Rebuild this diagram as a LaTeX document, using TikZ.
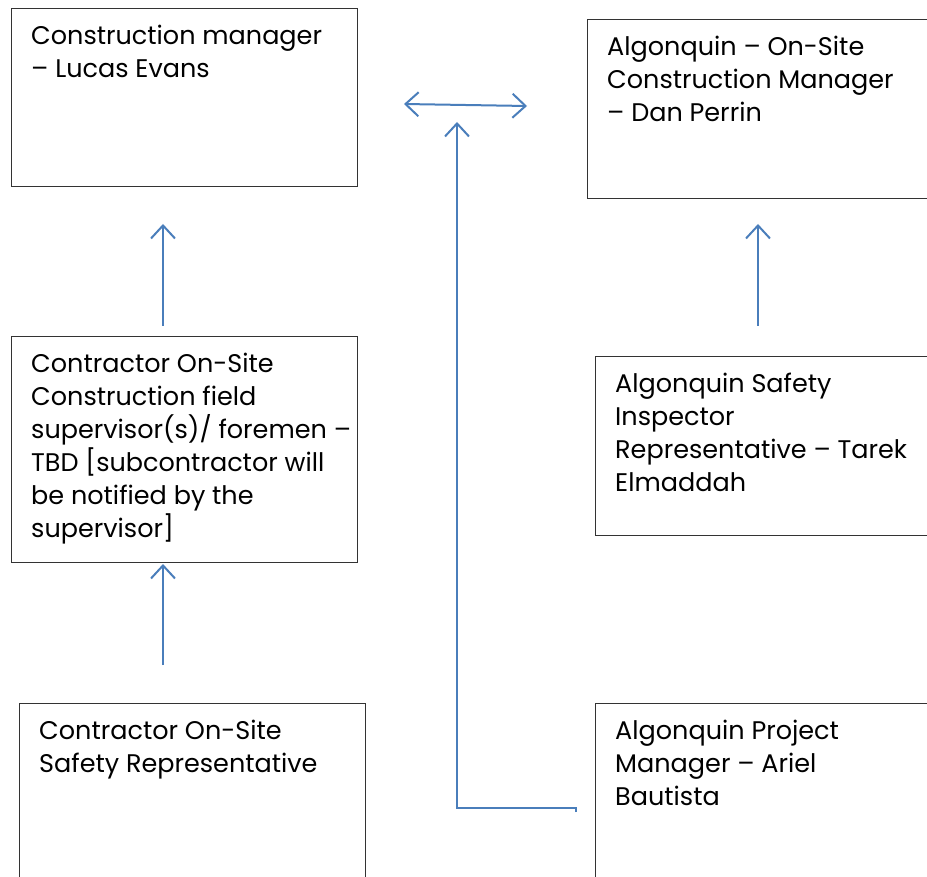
\documentclass[tikz,border=0pt]{standalone}
\usepackage{fontspec}
\setmainfont{Poppins}
\usetikzlibrary{arrows.meta, positioning, calc}
\definecolor{linkblue}{HTML}{4A7EBB}
\tikzset{
    rolebox/.style={rectangle, draw=black!80, line width=1.3pt, anchor=north west, inner sep=0pt, minimum width=346pt},
    roletext/.style={anchor=north west, align=left, inner xsep=20pt, inner ysep=17pt, font=\fontsize{25.5}{33}\selectfont},
    link/.style={draw=linkblue, line width=2pt, -{Straight Barb[length=13pt, width=24pt]}},
}

\begin{document}
\begin{tikzpicture}[x=1pt, y=-1pt]
\clip (0,0) rectangle (927,877);
\fill[white] (0,0) rectangle (927,877);

% Contractor side
\node[rolebox, minimum height=178pt] (cm) at (11,8) {};
\node[roletext] (cmtxt) at (cm.north west) {Construction manager\\– Lucas Evans};
\node[rolebox, minimum height=226pt] (fs) at (11,336) {};
\node[roletext] (fstxt) at (fs.north west) {Contractor On-Site\\Construction field\\supervisor(s)/ foremen –\\TBD [subcontractor will\\be notified by the\\supervisor]};
\node[rolebox, minimum height=200pt] (sr) at (19,703) {};
\node[roletext] (srtxt) at (sr.north west) {Contractor On-Site\\Safety Representative};

% Algonquin side
\node[rolebox, minimum height=179pt] (acm) at (587,19) {};
\node[roletext] (acmtxt) at (acm.north west) {Algonquin – On-Site\\Construction Manager\\– Dan Perrin};
\node[rolebox, minimum height=179pt] (asi) at (595,356) {};
\node[roletext] (asitxt) at (asi.north west) {Algonquin Safety\\Inspector\\Representative – Tarek\\Elmaddah};
\node[rolebox, minimum height=200pt] (apm) at (595,703) {};
\node[roletext] (apmtxt) at (apm.north west) {Algonquin Project\\Manager – Ariel\\Bautista};

% Arrow ends
\coordinate (fsup) at (163,326);
\coordinate (cmlow) at (163,224);
\coordinate (srup) at (163,665);
\coordinate (fslow) at (163,564);
\coordinate (asiup) at (758,326);
\coordinate (acmlow) at (758,224);
\coordinate (midl) at (404,104);
\coordinate (midr) at (527,106);
\coordinate (apmend) at (576,812);
\coordinate (bend) at (457,808);
\coordinate (midlow) at (457,122);

% Connections
\draw[link] (fsup) -- (cmlow);
\draw[link] (srup) -- (fslow);
\draw[link] (asiup) -- (acmlow);
\draw[link, {Straight Barb[length=13pt, width=24pt]}-{Straight Barb[length=13pt, width=24pt]}] (midl) -- (midr);
\draw[link] (apmend) -- (apmend |- bend) -- (bend) -- (midlow);
\end{tikzpicture}
\end{document}
